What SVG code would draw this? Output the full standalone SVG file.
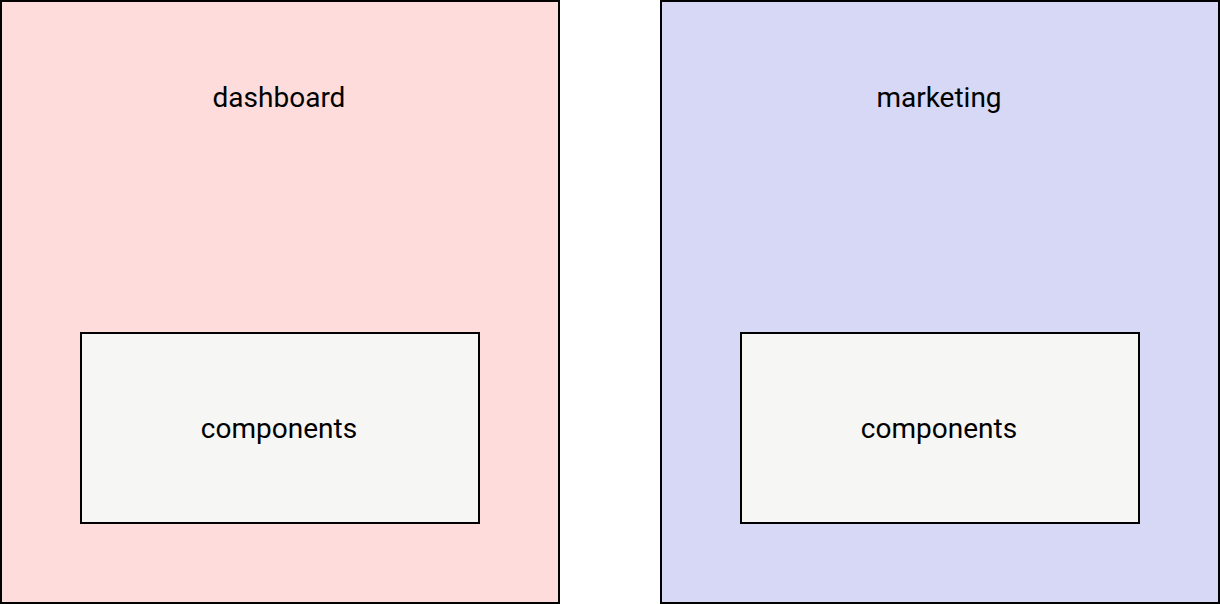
<svg xmlns="http://www.w3.org/2000/svg" width="1220" height="604" viewBox="0 0 1220 604">
<style>
.outer{stroke:#000;stroke-width:2}
.inner{fill:#f6f6f4;stroke:#000;stroke-width:2}
.lbl{font-family:Roboto,"Liberation Sans",sans-serif;font-size:28px;fill:#000;text-anchor:middle}
</style>
<rect width="1220" height="604" fill="#fff"/>
<g id="dashboard">
<rect class="outer" x="1" y="1" width="558" height="602" fill="#fedcdc"/>
<text class="lbl" x="279" y="107">dashboard</text>
</g>
<g id="dashboard-components">
<rect class="inner" x="81" y="333" width="398" height="190"/>
<text class="lbl" x="279" y="438">components</text>
</g>
<g id="marketing">
<rect class="outer" x="661" y="1" width="558" height="602" fill="#d6d8f5"/>
<text class="lbl" x="939" y="107">marketing</text>
</g>
<g id="marketing-components">
<rect class="inner" x="741" y="333" width="398" height="190"/>
<text class="lbl" x="939" y="438">components</text>
</g>
<g id="connectors"></g>
</svg>
